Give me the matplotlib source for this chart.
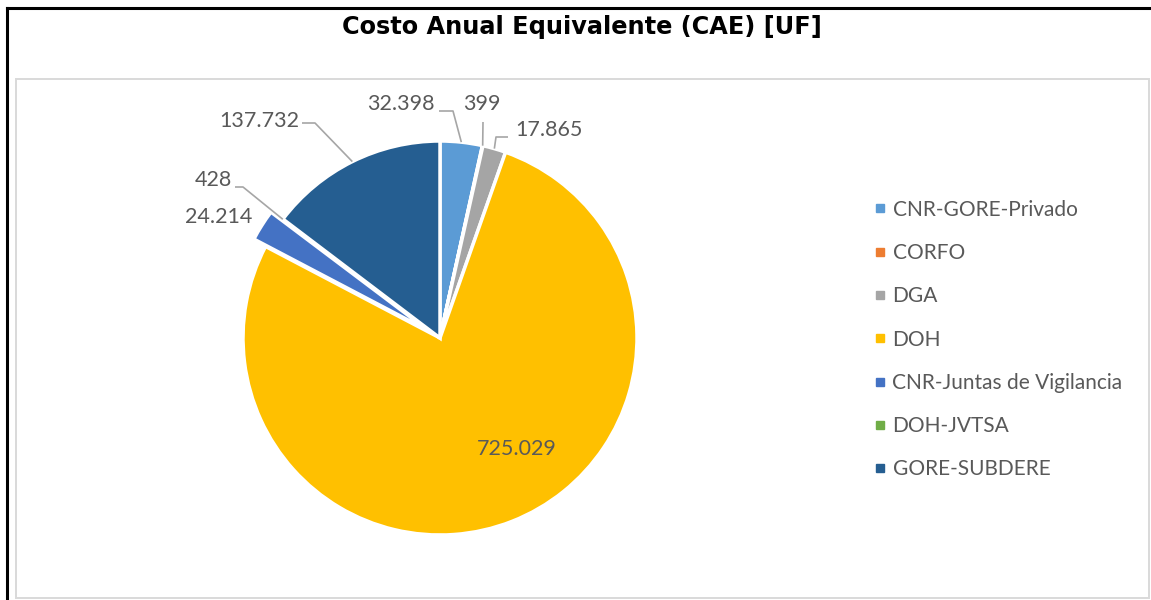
#import
import matplotlib.pyplot as plt
from matplotlib.lines import Line2D
from matplotlib.patches import Rectangle
import numpy as np

#-------------------------------------------------------------------------------

#data
categories = ["CNR-GORE-Privado", "CORFO", "DGA", "DOH",
              "CNR-Juntas de Vigilancia", "DOH-JVTSA", "GORE-SUBDERE"]
values = [32398, 399, 17865, 725029, 24214, 428, 137732]
colors = ["#5B9BD5", "#ED7D31", "#A5A5A5", "#FFC000",
          "#4472C4", "#70AD47", "#255E91"]
explode = [0, 0, 0, 0, 0.07, 0, 0]
title = "Costo Anual Equivalente (CAE) [UF]"

#-------------------------------------------------------------------------------

#layout (pixels of the 1151x600 picture)
W, H = 1151, 600
CX, CY, R = 440, 338, 197

# label text centres and leader elbows, in pixels
label_pos = [(401, 104), (482, 104), (549, 130), (517, 449),
             (219, 217), (213, 180), (259, 121)]
leader_pts = [[(453, 111), (439, 111)],
              [(483, 122)],
              [(496, 137), (508, 137)],
              None,
              None,
              [(243, 187), (235, 187)],
              [(315, 123), (302, 123)]]

label_color = "#595959"
leader_color = "#A6A6A6"
label_font = "Lato"


def px(x, y):
    """pixel -> data coords (1 unit = pie radius)"""
    return (x - CX) / R, (CY - y) / R


def fmt(v):
    return f"{v:,}".replace(",", ".")

#-------------------------------------------------------------------------------

fig = plt.figure(figsize=(W / 100, H / 100), dpi=100)
ax = fig.add_axes([0, 0, 1, 1])

wedges, _ = ax.pie(values, colors=colors, explode=explode, startangle=90,
                   counterclock=False, radius=1,
                   wedgeprops=dict(edgecolor="white", linewidth=2.5))

ax.set_xlim(-CX / R, (W - CX) / R)
ax.set_ylim(-(H - CY) / R, CY / R)
ax.set_aspect("auto")
ax.axis("off")

#labels + leaders
for w, v, pos, pts in zip(wedges, values, label_pos, leader_pts):
    tx, ty = px(*pos)
    ax.text(tx, ty, fmt(v), ha="center", va="center", fontsize=15.5,
            color=label_color, family=label_font)
    if pts is None:
        continue
    mid = np.deg2rad((w.theta1 + w.theta2) / 2)
    xs = [w.center[0] + w.r * np.cos(mid)]
    ys = [w.center[1] + w.r * np.sin(mid)]
    for p in pts:
        x, y = px(*p)
        xs.append(x)
        ys.append(y)
    ax.plot(xs, ys, color=leader_color, lw=1.2, solid_capstyle="butt")

#legend
handles = [Line2D([], [], marker="s", linestyle="", markersize=6, color=c)
           for c in colors]
fig.legend(handles, categories, loc="upper left",
           bbox_to_anchor=(875 / W, 1 - 199.5 / H), frameon=False,
           labelcolor=label_color, prop=dict(family=label_font, size=15),
           handlelength=0.5, handletextpad=0.34, labelspacing=1.12,
           borderpad=0, borderaxespad=0)

#title
fig.text(582 / W, 1 - 27 / H, title, ha="center", va="center",
         fontsize=17.3, fontweight="bold", family="DejaVu Sans")

#frames
fig.add_artist(Rectangle((16 / W, 1 - 598 / H), (1149 - 16) / W, (598 - 79) / H,
                         transform=fig.transFigure, fill=False,
                         edgecolor="#D9D9D9", lw=1.4))
fig.add_artist(Line2D([6.5 / W, 1], [1 - 7.5 / H] * 2,
                      transform=fig.transFigure, color="black", lw=2.2))
fig.add_artist(Line2D([6.5 / W] * 2, [0, 1 - 7.5 / H],
                      transform=fig.transFigure, color="black", lw=2.2))

plt.savefig("out.png", dpi=100)
